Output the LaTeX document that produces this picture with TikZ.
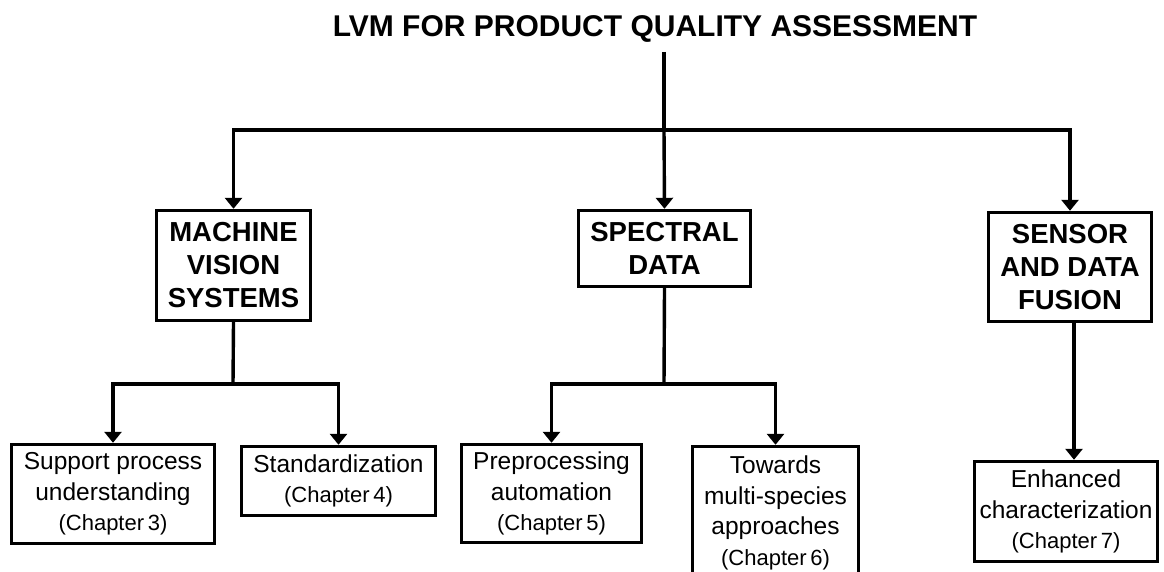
\documentclass[tikz,border=0pt]{standalone}
\usepackage{fontspec}
\setmainfont{Liberation Sans}
\usepackage{tikz}
\usetikzlibrary{arrows.meta}
\usetikzlibrary{calc}

\newcommand{\chapref}[1]{{\fontsize{22}{30}\selectfont(Chapter\,#1)}}

\begin{document}
\begin{tikzpicture}[x=1pt,y=-1pt,
    headbox/.style={draw,line width=3.4pt,align=center,inner sep=0pt,
      font=\fontsize{27.5}{33}\selectfont\bfseries},
    subbox/.style={draw,line width=3.4pt,align=center,inner sep=0pt,
      font=\fontsize{24.5}{30.5}\selectfont},
    wire/.style={line width=3.4pt},
    arrow/.style={line width=3.4pt,-{Triangle[width=17pt,length=11pt]}}]
      \useasboundingbox (0,0) rectangle (1164,572);
      \node[font=\fontsize{30}{36}\selectfont\bfseries,inner sep=0pt,anchor=base] (title) at (655,37) {LVM FOR PRODUCT QUALITY ASSESSMENT};
      % main topics
      \node[headbox,minimum width=154pt,minimum height=110pt] (mvs) at (233.5,265.5) {MACHINE\\VISION\\SYSTEMS};
      \node[headbox,minimum width=172pt,minimum height=76pt] (spectral) at (664.5,248.5) {SPECTRAL\\DATA};
      \node[headbox,minimum width=163pt,minimum height=109pt] (sensor) at (1070,267) {SENSOR\\AND DATA\\FUSION};
      % chapters
      \node[subbox,minimum width=203pt,minimum height=99pt] (support) at (113,494) {Support process\\understanding\\\chapref{3}};
      \node[subbox,minimum width=194pt,minimum height=69pt] (standard) at (338.5,481) {Standardization\\\chapref{4}};
      \node[subbox,minimum width=180pt,minimum height=98pt] (preproc) at (551.5,493.5) {Preprocessing\\automation\\\chapref{5}};
      \node[subbox,minimum width=166pt,minimum height=133pt] (species) at (775.5,513) {Towards\\multi-species\\approaches\\\chapref{6}};
      \node[subbox,minimum width=183pt,minimum height=100pt] (enhanced) at (1066,511.5) {Enhanced\\characterization\\\chapref{7}};
      % tree connectors
      \coordinate (hub) at (664,130);
      \coordinate (mvsfork) at (233,384);
      \coordinate (specfork) at (664,384);
      \draw[wire] ([yshift=-15pt]title.base -| hub) -- (hub);
      \draw[arrow] (hub) -| (mvs.north);
      \draw[arrow] (hub) -| (sensor.north);
      \draw[arrow] (hub) -- (spectral.north);
      \draw[wire] (mvs.south) -- (mvsfork);
      \draw[arrow] (mvsfork) -| (support.north);
      \draw[arrow] (mvsfork) -| (standard.north);
      \draw[wire] (spectral.south) -- (specfork);
      \draw[arrow] (specfork) -| (preproc.north);
      \draw[arrow] (specfork) -| (species.north);
      \draw[arrow] ([xshift=4pt]sensor.south) -- ([xshift=4pt]sensor.south |- enhanced.north);
    \end{tikzpicture}
\end{document}
